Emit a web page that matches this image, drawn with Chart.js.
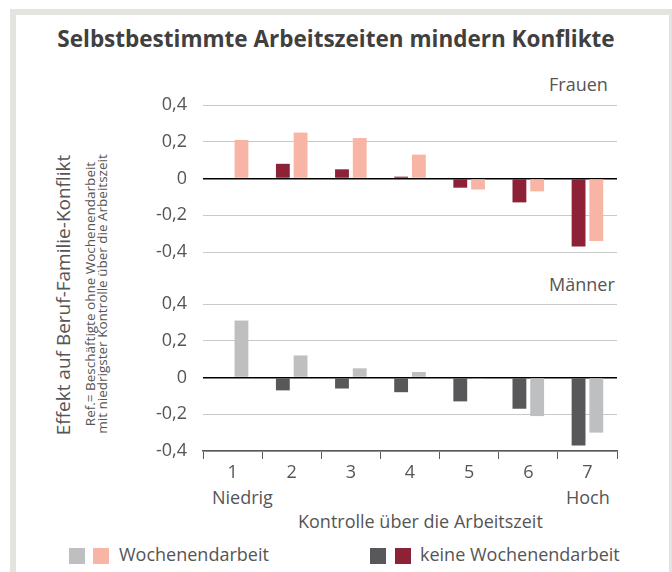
<!DOCTYPE html>
<html>
<head>
<meta charset="utf-8">
<script src="https://cdn.jsdelivr.net/npm/chart.js@4/dist/chart.umd.min.js"></script>
<style>
  html, body { margin: 0; padding: 0; background: #fff; }
  body { width: 672px; height: 572px; position: relative; overflow: hidden; font-family: "Open Sans", sans-serif; color: #555; }
  .frame { position: absolute; left: 10px; top: 9px; width: 653px; height: 600px; border: 6px solid #e4e4df; border-bottom: none; }
  .abs { position: absolute; white-space: nowrap; }
  .title { left: 0; width: 672px; top: 23px; text-align: center; font-size: 22.5px; font-weight: bold; color: #404040; }
  .panel { font-size: 18px; }
  .ytitle { left: 63px; top: 295px; transform: translate(-50%, -50%) rotate(-90deg); font-size: 19px; }
  .ysub { left: 96px; top: 294px; transform: translate(-50%, -50%) rotate(-90deg); font-size: 13.5px; line-height: 12px; text-align: center; }
  .xl { font-size: 18px; }
  .sq { position: absolute; width: 16px; height: 16px; }
  canvas { position: absolute; }
</style>
</head>
<body>
<div class="frame"></div>
<div class="abs title">Selbstbestimmte Arbeitszeiten mindern Konflikte</div>
<div class="abs panel" style="left:549px; top:72px;">Frauen</div>
<div class="abs panel" style="left:549px; top:272px;">Männer</div>
<div class="abs ytitle">Effekt auf Beruf-Familie-Konflikt</div>
<div class="abs ysub">Ref.= Beschäftigte ohne Wochenendarbeit<br>mit niedrigster Kontrolle über die Arbeitszeit</div>
<div class="abs xl" style="left:212px; top:485px;">Niedrig</div>
<div class="abs xl" style="left:566px; top:485px;">Hoch</div>
<div class="abs xl" style="left:298px; top:509px;">Kontrolle über die Arbeitszeit</div>

<div class="sq" style="left:69px; top:548px; background:#bebfc1;"></div>
<div class="sq" style="left:93px; top:548px; background:#f8b5a5;"></div>
<div class="abs xl" style="left:119px; top:542px;">Wochenendarbeit</div>
<div class="sq" style="left:370px; top:548px; background:#58585a;"></div>
<div class="sq" style="left:395px; top:548px; background:#8c2137;"></div>
<div class="abs xl" style="left:420px; top:542px;">keine Wochenendarbeit</div>

<canvas id="frauen" width="500" height="170" style="left:130px; top:95px; width:500px; height:170px;"></canvas>
<canvas id="maenner" width="500" height="195" style="left:130px; top:294px; width:500px; height:195px;"></canvas>

<script>
var kategorien = ['1', '2', '3', '4', '5', '6', '7'];
var yTicks = [-0.4, -0.2, 0, 0.2, 0.4];

// Frauen
var keineFrauen = [null, 0.08, 0.05, 0.01, -0.05, -0.13, -0.37];
var wochenFrauen = [0.21, 0.25, 0.22, 0.13, -0.06, -0.07, -0.34];

// Männer
var keineMaenner = [null, -0.07, -0.06, -0.08, -0.13, -0.17, -0.37];
var wochenMaenner = [0.31, 0.12, 0.05, 0.03, -0.005, -0.21, -0.30];

var charts = {};

function fmt(v) {
    var r = Math.round(v * 10) / 10;
    if (r === 0) return '0';
    return String(r).replace('.', ',');
}

function renderPanel(canvasId, keine, wochen, farbeKeine, farbeWochen, showX) {
    if (charts[canvasId]) charts[canvasId].destroy();
    var ctx = document.getElementById(canvasId);
    if (!ctx) return;
    charts[canvasId] = new Chart(ctx, {
        type: 'bar',
        data: {
            labels: kategorien,
            datasets: [
                { label: 'keine Wochenendarbeit', data: keine, backgroundColor: farbeKeine },
                { label: 'Wochenendarbeit', data: wochen, backgroundColor: farbeWochen }
            ]
        },
        options: {
            responsive: false,
            animation: false,
            layout: { padding: { top: 10, right: 13, bottom: showX ? 0 : 13, left: 0 } },
            datasets: { bar: { categoryPercentage: 0.6, barPercentage: 0.78, borderWidth: 0 } },
            plugins: { legend: { display: false }, tooltip: { enabled: false } },
            scales: {
                x: {
                    display: showX,
                    grid: { drawOnChartArea: false, drawTicks: true, tickLength: 8, color: '#58585a', lineWidth: 1 },
                    border: { color: '#58585a', width: 1.5 },
                    ticks: { color: '#555', padding: 3, font: { family: 'Open Sans', size: 18 } },
                    afterFit: function (s) {
                        if (showX) s.height = 38;
                        s.paddingLeft = 0; s.paddingRight = 0;
                    }
                },
                y: {
                    min: -0.4,
                    max: 0.4,
                    afterBuildTicks: function (s) { s.ticks = yTicks.map(function (v) { return { value: v }; }); },
                    afterFit: function (s) { s.width = 73; s.paddingTop = 0; s.paddingBottom = 0; },
                    border: { display: false },
                    grid: {
                        drawTicks: false,
                        color: function (c) { return c.tick && c.tick.value === 0 ? '#000' : '#c9c9c9'; },
                        lineWidth: function (c) { return c.tick && c.tick.value === 0 ? 1.5 : 1; }
                    },
                    ticks: {
                        autoSkip: false,
                        padding: 16,
                        color: '#555',
                        font: { family: 'Open Sans', size: 18 },
                        callback: function (v) { return fmt(v); }
                    }
                }
            }
        }
    });
}

renderPanel('frauen', keineFrauen, wochenFrauen, '#8c2137', '#f8b5a5', false);
renderPanel('maenner', keineMaenner, wochenMaenner, '#58585a', '#bebfc1', true);
</script>
</body>
</html>
